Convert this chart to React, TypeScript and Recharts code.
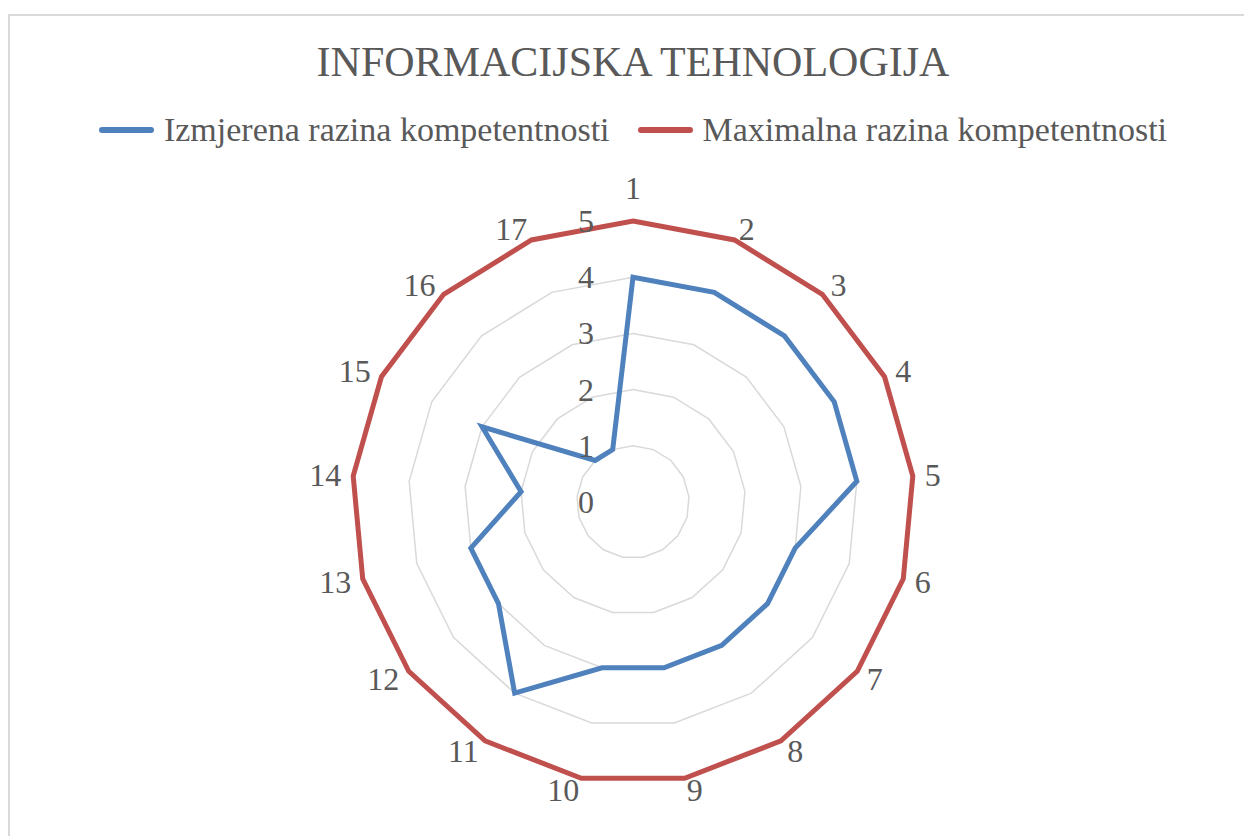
import { RadarChart, Radar, PolarGrid, PolarAngleAxis, PolarRadiusAxis, Legend } from 'recharts';

const categories = ['1', '2', '3', '4', '5', '6', '7', '8', '9', '10', '11', '12', '13', '14', '15', '16', '17'];
const measured = [4, 4, 4, 4, 4, 3, 3, 3, 3, 3, 4, 3, 3, 2, 3, 1, 1];
const maximum = [5, 5, 5, 5, 5, 5, 5, 5, 5, 5, 5, 5, 5, 5, 5, 5, 5];
const radiusTicks = [0, 1, 2, 3, 4, 5];

const title = 'INFORMACIJSKA TEHNOLOGIJA';
const seriesNames = ['Izmjerena razina kompetentnosti', 'Maximalna razina kompetentnosti'];
const seriesColors = ['#4f81bd', '#c0504d'];

const data = categories.map((c, i) => ({
  name: c,
  measured: measured[i],
  maximum: maximum[i],
}));

const FONT = '"Liberation Serif", "Times New Roman", serif';
const TEXT = '#595959';
const CX = 633;
const CY = 502;
const R = 281;

const AngleTick = (props: any) => {
  const { payload } = props;
  const a = (payload.coordinate * Math.PI) / 180;
  const h = Math.cos(a);
  const u = Math.sin(a);
  const vx = CX + R * h;
  const vy = CY - R * u;
  let x = vx;
  let y = vy;
  let anchor: 'start' | 'end' | 'middle' = 'middle';
  if (Math.abs(h) < 1e-3) {
    y = vy - 33 * Math.sign(u);
  } else {
    anchor = h > 0 ? 'start' : 'end';
    x = vx + 12 * h;
    y = vy - 12 * u;
  }
  return (
    <text x={x} y={y} textAnchor={anchor} dominantBaseline="central" fontSize={32} fill={TEXT} fontFamily={FONT}>
      {payload.value}
    </text>
  );
};

const RadiusTick = (props: any) => {
  const { x, y, payload } = props;
  return (
    <text x={x - 47} y={y} textAnchor="middle" dominantBaseline="central" fontSize={32} fill={TEXT} fontFamily={FONT}>
      {payload.value}
    </text>
  );
};

const LegendContent = () => (
  <div style={{ display: 'flex', justifyContent: 'center', alignItems: 'center', gap: 28 }}>
    {seriesNames.map((n, i) => (
      <div key={n} style={{ display: 'flex', alignItems: 'center' }}>
        <div style={{ width: 55, height: 6, borderRadius: 3, background: seriesColors[i], marginRight: 10 }} />
        <span style={{ fontFamily: FONT, fontSize: 34, color: TEXT, lineHeight: '40px' }}>{n}</span>
      </div>
    ))}
  </div>
);

export default function App() {
  return (
    <div style={{ position: 'fixed', left: 0, top: 0, width: 1244, height: 836, overflow: 'hidden', background: '#fff' }}>
      <div
        style={{
          position: 'absolute',
          left: 8,
          top: 14,
          width: 1300,
          height: 900,
          border: '2px solid #d9d9d9',
        }}
      />
      <div
        style={{
          position: 'absolute',
          left: 0,
          top: 36,
          width: 1266,
          textAlign: 'center',
          fontFamily: FONT,
          fontSize: 42,
          color: TEXT,
          lineHeight: '52px',
        }}
      >
        {title}
      </div>
      <div style={{ position: 'absolute', left: 0, top: 0 }}>
        <RadarChart
          width={1244}
          height={836}
          data={data}
          cx={CX}
          cy={CY}
          outerRadius={R}
          startAngle={90}
          endAngle={-270}
          margin={{ top: 0, right: 0, bottom: 0, left: 0 }}
        >
          <PolarGrid gridType="polygon" radialLines={false} stroke="#d9d9d9" strokeWidth={1.5} />
          <PolarAngleAxis dataKey="name" tick={AngleTick} tickLine={false} axisLine={false} />
          <PolarRadiusAxis
            angle={90}
            domain={[0, 5]}
            ticks={radiusTicks as any}
            tickCount={6}
            axisLine={false}
            tickLine={false}
            tick={RadiusTick}
          />
          <Legend
            verticalAlign="top"
            content={LegendContent}
            wrapperStyle={{ position: 'absolute', top: 110, left: 0, width: 1266 }}
          />
          <Radar
            name={seriesNames[0]}
            dataKey="measured"
            stroke={seriesColors[0]}
            strokeWidth={5}
            fill="none"
            fillOpacity={0}
            dot={false}
            isAnimationActive={false}
          />
          <Radar
            name={seriesNames[1]}
            dataKey="maximum"
            stroke={seriesColors[1]}
            strokeWidth={5}
            fill="none"
            fillOpacity={0}
            dot={false}
            isAnimationActive={false}
          />
        </RadarChart>
      </div>
    </div>
  );
}
